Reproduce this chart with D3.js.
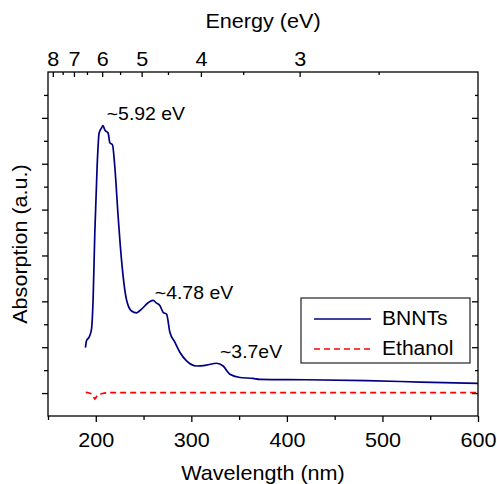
<!DOCTYPE html>
<html>
<head>
<meta charset="utf-8">
<script src="https://cdn.jsdelivr.net/npm/d3@7"></script>
<style>
  body { margin: 0; background: #fff; }
  text { font-family: "Liberation Sans", Arial, sans-serif; fill: #000; }
</style>
</head>
<body>
<div id="chart"></div>
<script>
// BNNTs absorption spectrum (wavelength nm, arbitrary units)
var bnntWl = [189.2, 190.3, 193, 195.5, 197.2, 199, 201.4, 203.5, 206, 207.6, 209.4, 212.9, 214.7,
  217.5, 219.9, 223.4, 226.9, 232.1, 237.4, 242.6, 247.9, 254.8, 260, 263.6, 267, 270.5, 274.1,
  277.5, 282.7, 288, 295, 305.4, 315.9, 326.4, 333.3, 340.3, 350.8, 364.4, 371.7, 420, 483.8, 540, 600];
var bnntAbs = [0.99, 1.14, 1.22, 1.39, 2.04, 3.5, 4.94, 5.67, 5.78, 5.83, 5.74, 5.67, 5.46,
  5.41, 4.94, 3.85, 2.91, 2.04, 1.79, 1.75, 1.83, 1.97, 2.02, 1.96, 1.91, 1.76, 1.72,
  1.33, 1.11, 0.89, 0.70, 0.59, 0.61, 0.65, 0.59, 0.41, 0.34, 0.32, 0.30, 0.29, 0.27, 0.24, 0.21];

// Ethanol reference
var ethWl = [189.5, 193, 196.9, 199, 202, 207, 214.7, 260, 350, 450, 600];
var ethAbs = [0.015, 0.0, -0.04, -0.13, -0.04, -0.01, 0.01, 0.01, 0.01, 0.01, 0.01];

var wlMajor = [200, 300, 400, 500, 600];
var wlMinor = [150, 250, 350, 450, 550];
var eMajor = [8, 7, 6, 5, 4, 3];
var eMinor = [7.5, 6.5, 5.5, 4.5, 3.5, 2.5];
var yMajor = [0, 1, 2, 3, 4, 5, 6];
var yMinor = [0.5, 1.5, 2.5, 3.5, 4.5, 5.5, 6.5];

var peakLabels = ["~5.92 eV", "~4.78 eV", "~3.7eV"];
var peakWl = [211.5, 261.8, 330];
var peakAbs = [5.95, 2.06, 0.77];

var seriesNames = ["BNNTs", "Ethanol"];

var width = 497, height = 484;
var margin = {top: 72, right: 19, bottom: 68, left: 48};
var sx = 1.08; // horizontal stretch of the lettering

var svg = d3.select("#chart").append("svg").attr("width", width).attr("height", height);

var x = d3.scaleLinear().domain([150, 600]).range([margin.left, width - margin.right]);
var y = d3.scaleLinear().domain([-0.5, 7]).range([height - margin.bottom, margin.top]);

// frame
svg.append("rect")
    .attr("x", x(150)).attr("y", y(7))
    .attr("width", x(600) - x(150)).attr("height", y(-0.5) - y(7))
    .style("fill", "none").style("stroke", "#000").style("stroke-width", 1.3);

function styleAxis(g) {
  g.select(".domain").remove();
  g.selectAll("line").style("stroke", "#000").style("stroke-width", 1.3);
  g.selectAll("text").style("font-size", "20px").style("font-family", null)
    .attr("transform", "scale(" + sx + ",1)");
}

// bottom axis
svg.append("g").attr("transform", "translate(0," + y(-0.5) + ")")
    .call(d3.axisBottom(x).tickValues(wlMajor).tickSize(6).tickPadding(11).tickSizeOuter(0))
    .call(styleAxis);
svg.append("g").attr("transform", "translate(0," + y(-0.5) + ")")
    .call(d3.axisBottom(x).tickValues(wlMinor).tickSize(4).tickFormat("").tickSizeOuter(0))
    .call(styleAxis);

// top axis (energy = 1240 / wavelength)
svg.append("g").attr("transform", "translate(0," + y(7) + ")")
    .call(d3.axisTop(x).tickValues(eMajor.map(function(e) { return 1240 / e; }))
      .tickFormat(function(d) { return d3.format("d")(Math.round(1240 / d)); })
      .tickSizeInner(-5).tickPadding(6).tickSizeOuter(0))
    .call(styleAxis);
svg.append("g").attr("transform", "translate(0," + y(7) + ")")
    .call(d3.axisTop(x).tickValues(eMinor.map(function(e) { return 1240 / e; }))
      .tickFormat("").tickSizeInner(-3).tickSizeOuter(0))
    .call(styleAxis);

// left axis (outward), right axis (inward), no labels
svg.append("g").attr("transform", "translate(" + x(150) + ",0)")
    .call(d3.axisLeft(y).tickValues(yMajor).tickSize(6).tickFormat("").tickSizeOuter(0))
    .call(styleAxis);
svg.append("g").attr("transform", "translate(" + x(150) + ",0)")
    .call(d3.axisLeft(y).tickValues(yMinor).tickSize(4).tickFormat("").tickSizeOuter(0))
    .call(styleAxis);
svg.append("g").attr("transform", "translate(" + x(600) + ",0)")
    .call(d3.axisRight(y).tickValues(yMajor).tickSize(-6).tickFormat("").tickSizeOuter(0))
    .call(styleAxis);
svg.append("g").attr("transform", "translate(" + x(600) + ",0)")
    .call(d3.axisRight(y).tickValues(yMinor).tickSize(-3).tickFormat("").tickSizeOuter(0))
    .call(styleAxis);

// curves
var line = d3.line()
    .x(function(d) { return x(d[0]); })
    .y(function(d) { return y(d[1]); })
    .curve(d3.curveMonotoneX);

svg.append("path")
    .datum(d3.zip(ethWl, ethAbs))
    .attr("d", line)
    .style("fill", "none").style("stroke", "#ff0000").style("stroke-width", 1.7)
    .style("stroke-dasharray", "6,4");

svg.append("path")
    .datum(d3.zip(bnntWl, bnntAbs))
    .attr("d", line)
    .style("fill", "none").style("stroke", "#000080").style("stroke-width", 1.7);

// peak annotations
peakLabels.forEach(function(t, i) {
  svg.append("text")
      .attr("transform", "translate(" + x(peakWl[i]) + "," + y(peakAbs[i]) + ") scale(" + sx + ",1)")
      .style("font-size", "18px")
      .text(t);
});

// axis titles
svg.append("text")
    .attr("transform", "translate(" + ((x(150) + x(600)) / 2) + ",28) scale(" + sx + ",1)")
    .attr("text-anchor", "middle").style("font-size", "20px")
    .text("Energy (eV)");
svg.append("text")
    .attr("transform", "translate(" + ((x(150) + x(600)) / 2) + ",480) scale(" + sx + ",1)")
    .attr("text-anchor", "middle").style("font-size", "20px")
    .text("Wavelength (nm)");
svg.append("text")
    .attr("transform", "translate(27," + ((y(-0.5) + y(7)) / 2) + ") rotate(-90) scale(" + sx + ",1)")
    .attr("text-anchor", "middle").style("font-size", "20px")
    .text("Absorption (a.u.)");

// legend
var legend = svg.append("g").attr("transform", "translate(301,298)");
legend.append("rect")
    .attr("width", 169).attr("height", 65)
    .style("fill", "#fff").style("stroke", "#333").style("stroke-width", 1.3);
var legendStyles = [
  {stroke: "#000080", dash: null},
  {stroke: "#ff0000", dash: "6,4"}
];
seriesNames.forEach(function(name, i) {
  var ly = 21 + i * 30;
  legend.append("line")
      .attr("x1", 13).attr("x2", 70).attr("y1", ly).attr("y2", ly)
      .style("stroke", legendStyles[i].stroke).style("stroke-width", 1.7)
      .style("stroke-dasharray", legendStyles[i].dash);
  legend.append("text")
      .attr("transform", "translate(81," + (ly + 6) + ") scale(" + sx + ",1)")
      .style("font-size", "19.5px")
      .text(name);
});
</script>
</body>
</html>
